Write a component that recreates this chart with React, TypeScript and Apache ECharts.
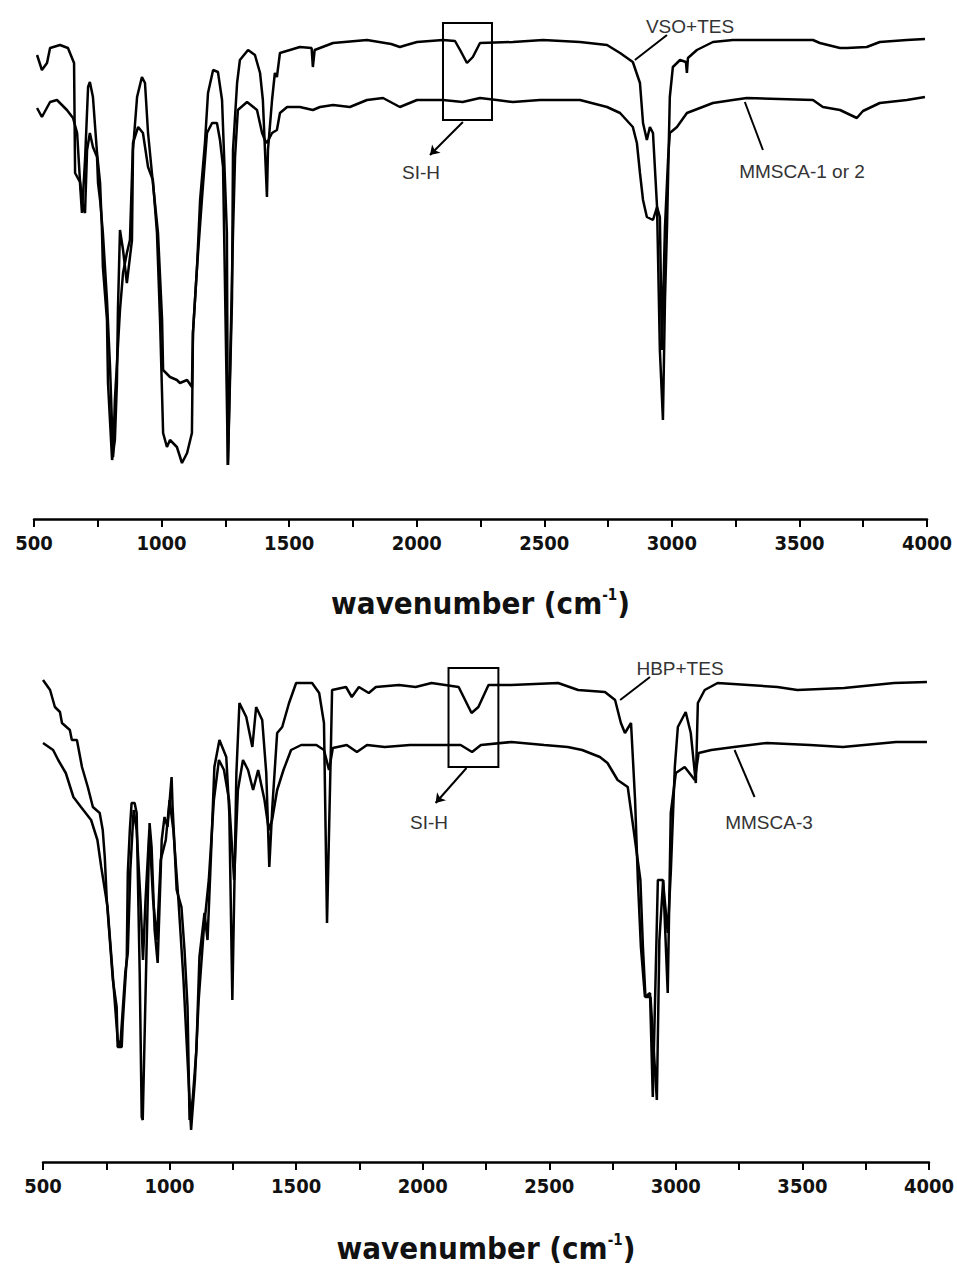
import React, { useEffect, useRef } from "react";
import * as echarts from "echarts";

// ---------- Data (wavenumber cm-1, transmittance a.u.) ----------
const TOP_VSO_WN = [512,531,551,563,602,633,649,657,661,680,688,700,712,719,731,747,759,766,770,786,790,806,817,825,829,837,849,864,884,888,904,923,935,947,966,986,1002,1006,1033,1060,1072,1100,1119,1123,1139,1151,1170,1182,1202,1221,1237,1256,1260,1276,1280,1296,1307,1339,1366,1386,1397,1413,1417,1433,1444,1452,1464,1503,1542,1588,1593,1600,1672,1805,1900,1934,1960,2001,2103,2150,2170,2197,2220,2248,2377,2495,2640,2746,2797,2847,2875,2887,2902,2914,2926,2942,2953,2965,2973,2981,2992,3004,3032,3055,3059,3063,3098,3161,3239,3553,3580,3659,3686,3764,3815,3921,3992];
const TOP_VSO_T = [92.8,89.8,91.2,94.2,94.8,94.2,92.2,91.2,69.2,67.4,61.2,71.8,86.4,87.4,84.4,73.2,67.2,58.4,50.4,39.8,27.2,11.8,15.8,27.2,41.8,57.8,53.8,47.2,55.8,73.8,84.4,88.4,87.2,77.2,67.2,57.2,39.8,29.8,28.4,27.8,27.2,27.8,26.4,37.2,50.4,63.8,75.2,85.2,89.8,89.4,83.8,57.2,10.8,43.8,73.8,87.2,91.8,93.8,92.8,89.2,83.8,64.4,73.8,83.8,89.2,88.4,93.2,93.8,94.4,94.2,90.4,93.8,95.2,95.8,95.0,94.4,94.8,95.4,95.8,95.6,93.8,91.2,92.4,95.2,95.4,95.8,95.4,94.8,93.2,91.4,87.2,79.2,75.8,78.4,77.2,62.4,33.8,19.8,43.8,58.4,84.4,90.4,91.8,91.4,89.2,92.2,93.8,95.4,95.8,95.8,95.2,94.2,94.2,94.4,95.4,95.8,96.0];

const TOP_MMS_WN = [512,531,563,590,629,653,669,680,692,700,708,719,731,747,751,759,770,786,798,810,817,837,849,864,876,888,908,927,947,966,982,994,1006,1021,1033,1060,1080,1100,1119,1123,1139,1158,1178,1198,1217,1229,1241,1260,1280,1288,1299,1335,1374,1394,1405,1413,1433,1452,1464,1492,1542,1593,1621,1672,1738,1805,1868,1934,2001,2103,2180,2248,2314,2377,2483,2640,2746,2797,2847,2863,2875,2887,2902,2926,2942,2953,2961,2973,2985,2992,3020,3059,3161,3239,3294,3553,3592,3659,3725,3749,3815,3921,3992];
const TOP_MMS_T = [82.2,80.4,83.4,83.8,81.8,80.2,77.2,67.8,62.4,61.2,73.8,77.2,74.4,72.4,67.2,63.8,57.2,43.8,30.4,12.4,23.8,41.8,49.2,53.2,55.8,75.2,78.4,77.2,70.4,67.8,57.2,39.8,17.2,14.4,15.8,14.4,11.2,13.2,17.2,37.2,50.4,63.8,77.2,79.2,79.2,75.8,70.4,10.8,57.2,72.4,81.8,83.4,81.8,77.2,75.8,75.2,77.2,77.8,81.2,82.4,82.4,81.8,82.4,82.8,82.4,83.8,84.2,82.4,83.8,83.8,83.4,84.2,83.8,83.4,83.8,83.8,82.4,81.2,78.4,75.2,69.2,63.8,60.4,59.8,62.4,60.4,33.8,58.4,71.8,77.2,78.4,81.2,83.2,83.8,84.2,83.8,82.4,81.8,80.2,81.6,83.2,83.8,84.4];

const BOT_HBP_WN = [500,528,547,567,575,606,614,634,654,677,697,724,736,744,752,764,776,791,795,811,815,831,835,843,850,862,870,882,890,894,909,921,929,941,953,969,980,992,1008,1012,1028,1047,1059,1071,1079,1091,1106,1118,1138,1150,1165,1177,1197,1224,1236,1248,1264,1276,1303,1327,1342,1366,1382,1394,1406,1425,1445,1472,1500,1563,1591,1610,1622,1638,1642,1697,1720,1748,1787,1815,1906,1972,2035,2142,2193,2220,2260,2350,2535,2614,2720,2760,2783,2799,2823,2839,2850,2862,2878,2898,2909,2929,2949,2968,2980,2996,3008,3039,3059,3079,3087,3114,3165,3401,3480,3665,3862,3992];
const BOT_HBP_T = [96.4,94.4,91.0,90.0,87.8,86.4,84.4,84.4,79.0,75.0,71.0,69.8,66.4,61.0,52.4,44.4,36.4,31.0,23.0,23.0,27.8,41.0,57.8,66.4,71.8,71.8,69.8,37.8,9.0,8.4,42.4,67.8,63.0,46.4,39.8,64.4,69.0,67.0,77.0,71.0,54.4,51.0,42.4,31.0,8.4,12.4,22.4,41.0,49.8,44.4,63.0,79.0,84.4,81.0,69.8,32.4,77.8,91.8,89.0,83.0,91.0,88.4,77.8,59.0,71.0,85.8,87.0,91.8,95.8,95.8,93.8,87.8,47.8,84.4,94.4,95.0,93.0,95.0,93.8,95.0,95.4,95.0,95.8,95.0,89.8,91.0,95.4,95.4,95.8,94.4,94.0,92.4,87.8,85.8,87.8,72.4,56.4,43.0,33.0,33.8,13.0,56.4,56.4,45.8,57.8,79.0,87.0,90.0,85.8,75.8,91.8,94.4,95.8,95.0,94.4,94.8,95.8,96.0];

const BOT_MMS3_WN = [500,540,560,590,620,650,690,715,730,755,775,795,805,825,835,845,858,870,885,895,905,920,935,950,965,985,1000,1015,1035,1055,1075,1085,1100,1115,1135,1155,1175,1195,1215,1235,1255,1270,1290,1310,1330,1350,1375,1392,1405,1425,1450,1480,1520,1580,1610,1630,1645,1700,1740,1780,1850,1950,2050,2150,2195,2230,2350,2480,2573,2630,2700,2730,2770,2810,2835,2860,2870,2880,2900,2925,2935,2950,2968,2980,3000,3035,3075,3090,3140,3230,3360,3530,3660,3870,3992];
const BOT_MMS3_T = [83.8,82.4,80.4,77.8,73.0,71.0,68.4,64.4,59.0,51.0,37.8,24.4,23.0,37.8,41.8,58.4,70.4,66.4,52.4,40.4,52.4,66.4,52.4,44.4,60.4,64.4,72.4,66.4,52.4,36.4,16.4,6.4,16.4,32.4,46.4,56.4,72.4,80.4,78.4,72.4,56.4,74.4,80.4,78.4,74.4,78.4,72.4,66.4,68.4,74.4,78.4,82.4,83.4,83.4,82.4,78.4,82.8,83.4,82.0,83.4,83.0,83.4,83.4,83.4,82.0,83.4,84.0,83.4,83.0,82.4,81.0,79.8,76.4,75.0,65.8,56.4,43.0,33.0,33.0,12.4,44.4,56.4,33.8,69.8,77.8,79.0,76.4,81.8,82.4,83.0,83.8,83.4,83.0,84.0,84.0];

const X_TICKS = [500, 1000, 1500, 2000, 2500, 3000, 3500, 4000];

// annotation anchors (data units)
const TOP_BOX = [[2103, 99.2], [2295, 79.8]];
const TOP_ARROW = [[2181, 79.4], [2052, 72.8]];
const TOP_LEAD_VSO = [[2855, 91.8], [2981, 96.8]];
const TOP_LEAD_MMS = [[3286, 83.4], [3357, 73.8]];
const BOT_BOX = [[2102, 98.8], [2299, 79.0]];
const BOT_ARROW = [[2173, 78.8], [2051, 71.8]];
const BOT_LEAD_HBP = [[2780, 92.4], [2898, 97.0]];
const BOT_LEAD_MMS = [[3232, 82.4], [3311, 73.0]];

function zip(w: number[], t: number[]) {
  const n = Math.min(w.length, t.length);
  const out: number[][] = [];
  for (let i = 0; i < n; i++) out.push([w[i], t[i]]);
  return out;
}

const AXIS_FONT = "'Liberation Sans Narrow', 'DejaVu Sans Condensed', 'Liberation Sans', sans-serif";
const NOTE_FONT = "'Liberation Sans', Arial, sans-serif";

function xAxisCfg(gridIndex: number, nameGap: number) {
  return {
    type: "value",
    gridIndex,
    min: 500,
    max: 4000,
    interval: 500,
    position: "bottom",
    name: "wavenumber (cm{sup|-1})",
    nameLocation: "middle",
    nameGap,
    nameTextStyle: {
      fontFamily: AXIS_FONT,
      fontSize: 31,
      fontWeight: "bold",
      color: "#111",
      rich: {
        sup: { fontFamily: AXIS_FONT, fontSize: 15, fontWeight: "bold", color: "#111", verticalAlign: "top", padding: [0, 0, 16, 0] },
      },
    },
    axisLine: { show: true, onZero: false, lineStyle: { color: "#000", width: 2.5 } },
    axisTick: { show: true, inside: false, length: 8, lineStyle: { color: "#000", width: 2 } },
    minorTick: { show: true, splitNumber: 2, length: 8, lineStyle: { color: "#000", width: 2 } },
    splitLine: { show: false },
    axisLabel: {
      margin: 14,
      fontFamily: AXIS_FONT,
      fontSize: 20,
      fontWeight: "bold",
      color: "#111",
      formatter: (v: number) => (X_TICKS.indexOf(v) >= 0 ? String(v) : ""),
    },
  };
}

function yAxisCfg(gridIndex: number) {
  return { type: "value", gridIndex, min: 0, max: 100, show: false };
}

function lineSeries(name: string, data: number[][], axisIdx: number, extra: any = {}) {
  return {
    name,
    type: "line",
    xAxisIndex: axisIdx,
    yAxisIndex: axisIdx,
    data,
    showSymbol: false,
    symbol: "none",
    smooth: false,
    lineStyle: { color: "#000", width: 2.5 },
    silent: true,
    ...extra,
  };
}

function annotations(box: number[][], arrow: number[][], lead1: number[][], lead2: number[][]) {
  return {
    markArea: {
      silent: true,
      itemStyle: { color: "rgba(0,0,0,0)", borderColor: "#000", borderWidth: 2 },
      label: { show: false },
      data: [[{ coord: box[0] }, { coord: box[1] }]],
    },
    markLine: {
      silent: true,
      symbol: ["none", "none"],
      label: { show: false },
      lineStyle: { color: "#000", width: 2, type: "solid" },
      data: [
        [{ coord: arrow[0], symbol: "none" }, { coord: arrow[1], symbol: "arrow", symbolSize: 9 }],
        [{ coord: lead1[0], symbol: "none" }, { coord: lead1[1], symbol: "none" }],
        [{ coord: lead2[0], symbol: "none" }, { coord: lead2[1], symbol: "none" }],
      ],
    },
  };
}

function note(text: string, x: number, y: number) {
  return {
    type: "text",
    x,
    y,
    silent: true,
    style: {
      text,
      fill: "#333",
      font: `19px ${NOTE_FONT}`,
      align: "center",
      verticalAlign: "middle",
    },
  };
}

export default function App() {
  const ref = useRef<HTMLDivElement>(null);
  useEffect(() => {
    if (!ref.current) return;
    const chart = echarts.init(ref.current, undefined, { renderer: "svg" });
    chart.setOption({
      animation: false,
      backgroundColor: "#fff",
      grid: [
        { left: 34, top: 19, width: 893, height: 500 },
        { left: 43, top: 662, width: 889, height: 500 },
      ],
      xAxis: [xAxisCfg(0, 68), xAxisCfg(1, 70)],
      yAxis: [yAxisCfg(0), yAxisCfg(1)],
      series: [
        lineSeries("VSO+TES", zip(TOP_VSO_WN, TOP_VSO_T), 0, annotations(TOP_BOX, TOP_ARROW, TOP_LEAD_VSO, TOP_LEAD_MMS)),
        lineSeries("MMSCA-1 or 2", zip(TOP_MMS_WN, TOP_MMS_T), 0),
        lineSeries("HBP+TES", zip(BOT_HBP_WN, BOT_HBP_T), 1, annotations(BOT_BOX, BOT_ARROW, BOT_LEAD_HBP, BOT_LEAD_MMS)),
        lineSeries("MMSCA-3", zip(BOT_MMS3_WN, BOT_MMS3_T), 1),
      ],
      graphic: [
        note("VSO+TES", 690, 26),
        note("SI-H", 421, 172),
        note("MMSCA-1 or 2", 802, 171),
        note("HBP+TES", 680, 668),
        note("SI-H", 429, 822),
        note("MMSCA-3", 769, 822),
      ],
    });
    return () => chart.dispose();
  }, []);
  return (
    <div
      ref={ref}
      style={{ position: "fixed", left: 0, top: 0, width: 957, height: 1269, background: "#fff" }}
    />
  );
}
